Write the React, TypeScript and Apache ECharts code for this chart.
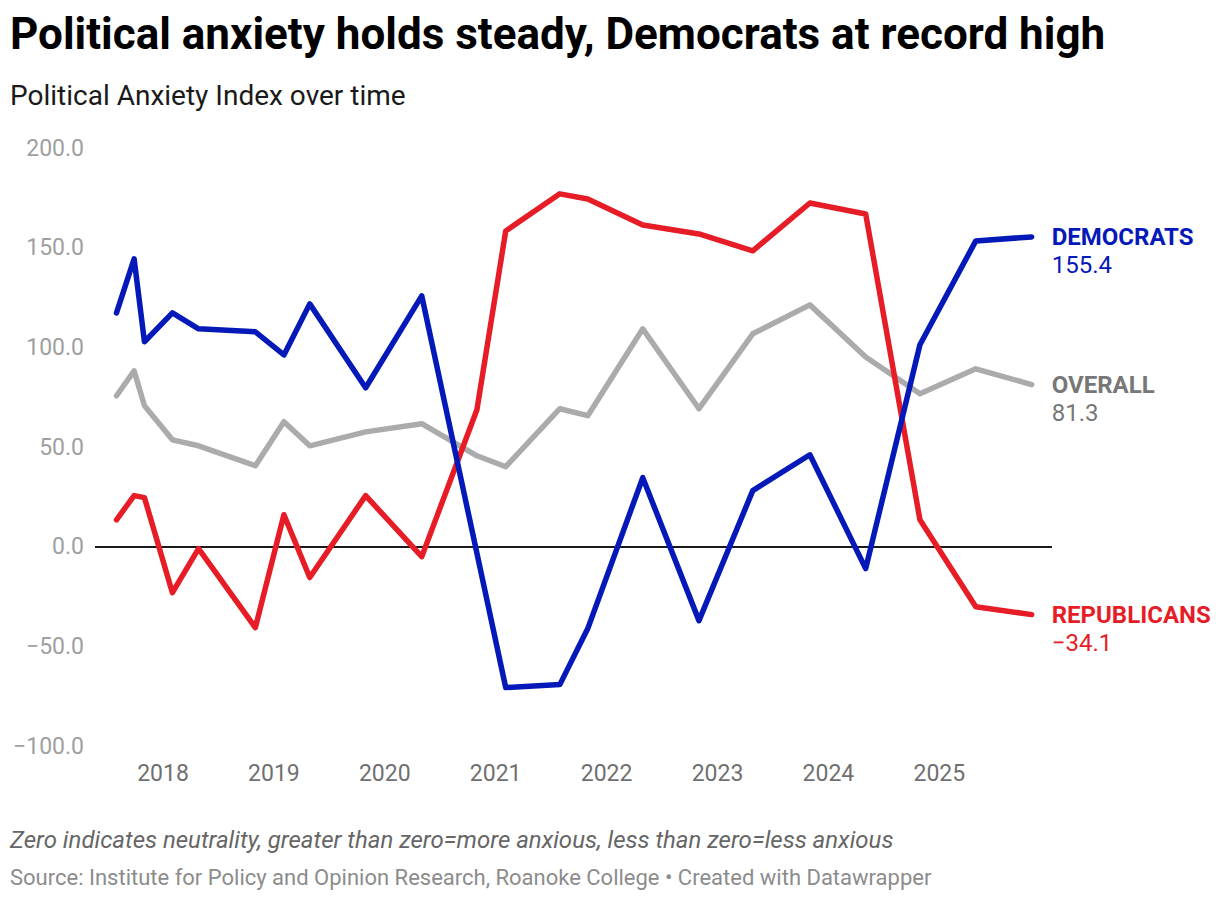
import React, { useEffect, useRef } from "react";
import * as echarts from "echarts";

const surveyDates = [
  "2017-08-01", "2017-09-28", "2017-11-01", "2018-02-01", "2018-04-28",
  "2018-11-01", "2019-02-03", "2019-04-29", "2019-10-30", "2020-05-02",
  "2020-10-31", "2021-02-03", "2021-07-31", "2021-10-31", "2022-04-30",
  "2022-11-01", "2023-04-27", "2023-11-01", "2024-05-03", "2024-10-29",
  "2025-05-01", "2025-11-01",
];

const democrats: (number | null)[] = [
  117.3, 144.4, 102.8, 117.3, 109.3, 107.8, 96.2, 121.8, 79.7, 125.8,
  null, -70.7, -69.2, -41.1, 34.6, -37.1, 28.1, 46.1, -11.0, 101.3, 153.4, 155.4,
];
const republicans: number[] = [
  13.5, 25.6, 24.6, -23.1, -1.0, -40.6, 16.0, -15.5, 25.6, -5.0,
  68.7, 158.4, 177.0, 174.4, 161.4, 156.9, 148.4, 172.4, 166.9, 13.5, -30.1, -34.1,
];
const overall: number[] = [
  75.7, 88.2, 70.7, 53.6, 50.6, 40.6, 62.7, 50.6, 57.6, 61.7,
  45.6, 40.1, 69.2, 65.7, 109.3, 69.2, 106.8, 121.3, 95.2, 76.7, 89.2, 81.3,
];
const yearTicks = [2018, 2019, 2020, 2021, 2022, 2023, 2024, 2025];
const yTicks = { min: -100, max: 200, step: 50 };

const BLUE = "#0519b8";
const RED = "#e61d27";
const GRAY_LINE = "#ababab";
const GRAY_LABEL = "#777777";
const FONT = "Roboto";

function toDecimalYear(s: string): number {
  const [y, m, d] = s.split("-").map(Number);
  const start = Date.UTC(y, 0, 1);
  const end = Date.UTC(y + 1, 0, 1);
  return y + (Date.UTC(y, m - 1, d) - start) / (end - start);
}

function fmt(v: number): string {
  const s = Math.abs(v).toFixed(1);
  return v < 0 ? "\u2212" + s : s;
}

function lastVal(arr: (number | null)[]): number {
  for (let i = arr.length - 1; i >= 0; i--) if (arr[i] != null) return arr[i] as number;
  return 0;
}

function makeSeries(name: string, values: (number | null)[], color: string, labelColor: string, z: number, extra: any = {}) {
  const xs = surveyDates.map(toDecimalYear);
  return {
    type: "line",
    name,
    z,
    data: values.map((v, i) => [xs[i], v]),
    connectNulls: true,
    showSymbol: false,
    symbol: "none",
    lineStyle: { color, width: 5.5, cap: "round", join: "round" },
    itemStyle: { color },
    emphasis: { disabled: true },
    endLabel: {
      show: true,
      distance: 20,
      offset: [0, 14],
      formatter: () => `{n|${name}}\n{v|${fmt(lastVal(values))}}`,
      rich: {
        n: { fontFamily: FONT, fontWeight: "bold", fontSize: 24, lineHeight: 28, color: labelColor },
        v: { fontFamily: FONT, fontSize: 24, lineHeight: 28, color: labelColor },
      },
    },
    ...extra,
  };
}

export default function App() {
  const ref = useRef<HTMLDivElement>(null);
  useEffect(() => {
    if (!ref.current) return;
    const chart = echarts.init(ref.current, undefined, { renderer: "svg" });
    chart.setOption({
      animation: false,
      backgroundColor: "#ffffff",
      textStyle: { fontFamily: FONT },
      grid: { left: 95, right: 168, top: 148, bottom: 156, containLabel: false },
      xAxis: {
        type: "value",
        min: 2017.387,
        max: 2026.016,
        axisLine: { show: false },
        axisTick: { show: false },
        splitLine: { show: false },
        axisLabel: {
          customValues: yearTicks,
          formatter: (v: number) => String(Math.round(v)),
          color: "#707070",
          fontSize: 23,
          fontFamily: FONT,
          margin: 16,
        },
      },
      yAxis: {
        type: "value",
        min: yTicks.min,
        max: yTicks.max,
        interval: yTicks.step,
        axisLine: { show: false },
        axisTick: { show: false },
        splitLine: { show: false },
        axisLabel: {
          formatter: (v: number) => fmt(v),
          color: "#a0a0a0",
          fontSize: 23,
          fontFamily: FONT,
          margin: 11,
        },
      },
      graphic: [
        {
          type: "text",
          left: 10,
          top: 12,
          style: { text: "Political anxiety holds steady, Democrats at record high", font: `bold 44px ${FONT}`, fill: "#000000" },
        },
        {
          type: "text",
          left: 10,
          top: 81,
          style: { text: "Political Anxiety Index over time", font: `28px ${FONT}`, fill: "#1a1a1a" },
        },
        {
          type: "text",
          left: 10,
          top: 828,
          style: {
            text: "Zero indicates neutrality, greater than zero=more anxious, less than zero=less anxious",
            font: `italic 24px ${FONT}`,
            fill: "#666666",
          },
        },
        {
          type: "text",
          left: 10,
          top: 866,
          style: {
            text: "Source: Institute for Policy and Opinion Research, Roanoke College \u2022 Created with Datawrapper",
            font: `22px ${FONT}`,
            fill: "#8c8c8c",
          },
        },
      ],
      series: [
        makeSeries("OVERALL", overall, GRAY_LINE, GRAY_LABEL, 2, {
          markLine: {
            silent: true,
            symbol: "none",
            label: { show: false },
            lineStyle: { color: "#1a1a1a", width: 2, type: "solid" },
            data: [{ yAxis: 0 }],
            z: 1,
          },
        }),
        makeSeries("REPUBLICANS", republicans, RED, RED, 3),
        makeSeries("DEMOCRATS", democrats, BLUE, BLUE, 4),
      ],
    });
    return () => chart.dispose();
  }, []);
  return (
    <div
      ref={ref}
      style={{ position: "absolute", left: 0, top: 0, width: 1220, height: 902 }}
    />
  );
}
